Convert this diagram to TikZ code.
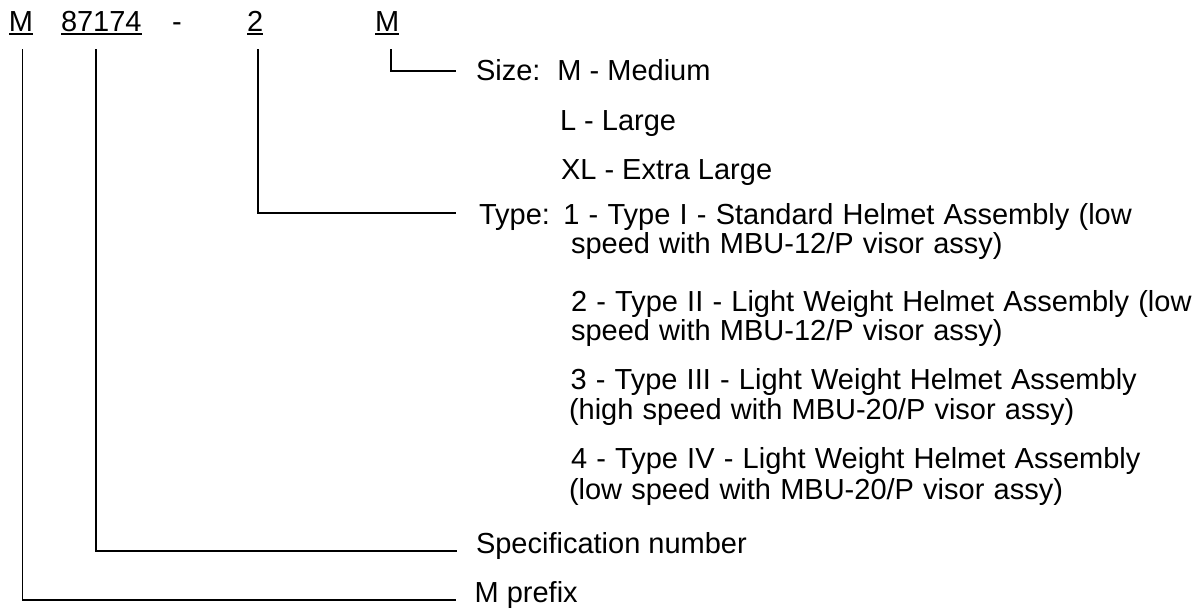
\documentclass[tikz,border=0pt]{standalone}
\usepackage{fontspec}
\setmainfont{Liberation Sans}
\newcommand\widerspaces{\spaceskip 9.2pt\relax}
\begin{document}
\begin{tikzpicture}[x=1pt,y=-1pt,
  txt/.style={anchor=base west,inner sep=0pt,outer sep=0pt,font=\fontsize{29}{31}\selectfont},
  para/.style={txt,execute at begin node=\widerspaces},
  lead/.style={line width=1.8pt,line cap=rect},
  uline/.style={line width=1.9pt}]
\useasboundingbox (0,0) rectangle (1195,609);

% part number fields
\node[txt] (cm)    at (9,32)   {M};
\node[txt] (cnum)  at (61,32)  {87174};
\node[txt] (cdash) at (172,32) {-};
\node[txt] (ctype) at (247,32) {2};
\node[txt] (csize) at (375,32) {M};
\foreach \n in {cm,cnum,ctype,csize}
  \draw[uline] ([yshift=-2.4pt]\n.base west) -- ([yshift=-2.4pt]\n.base east);

% field descriptions
\node[txt] (size1) at (476,81)  {Size:\hspace{17pt}M - Medium};
\node[txt] (size2) at (560,131) {L - Large};
\node[txt] (size3) at (561,180) {XL - Extra Large};

\node[para] (type1a) at (479,225)   {Type:\hspace{13.5pt}1 - Type I - Standard Helmet Assembly (low};
\node[para] (type1b) at (571,254)   {speed with MBU-12/P visor assy)};
\node[para] (type2a) at (571,311.7) {2 - Type II - Light Weight Helmet Assembly (low};
\node[para] (type2b) at (571,340.7) {speed with MBU-12/P visor assy)};
\node[para] (type3a) at (570.5,389.3) {3 - Type III - Light Weight Helmet Assembly};
\node[para] (type3b) at (569,420)   {(high speed with MBU-20/P visor assy)};
\node[para] (type4a) at (571,468.3) {4 - Type IV - Light Weight Helmet Assembly};
\node[para] (type4b) at (569,500)   {(low speed with MBU-20/P visor assy)};

\node[txt] (spec)   at (476,554) {Specification number};
\node[txt] (prefix) at (474.6,602) {M prefix};

% leader lines from each field to its description
\coordinate (sizeTop)   at (391,50);   \coordinate (sizeEnd)   at (455,71);
\coordinate (typeTop)   at (258,50);   \coordinate (typeEnd)   at (455,213);
\coordinate (specTop)   at (96,50);    \coordinate (specEnd)   at (456,551);
\coordinate (prefixTop) at (22.5,50);  \coordinate (prefixEnd) at (455,600);

\draw[lead] (sizeTop)   |- (sizeEnd);
\draw[lead] (typeTop)   |- (typeEnd);
\draw[lead] (specTop)   |- (specEnd);
\draw[lead] (prefixTop) |- (prefixEnd);
\end{tikzpicture}
\end{document}
